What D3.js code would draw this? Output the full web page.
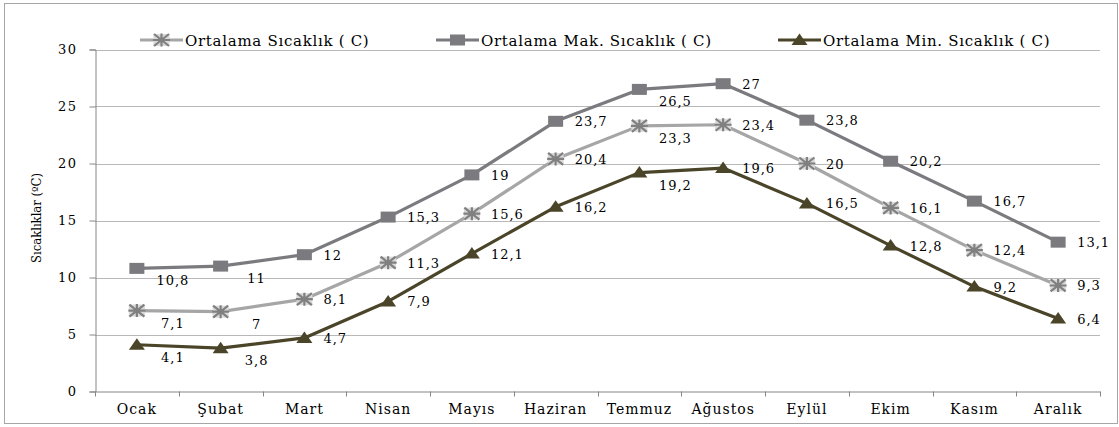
<!DOCTYPE html>
<html><head><meta charset="utf-8">
<script src="https://cdn.jsdelivr.net/npm/d3@7"></script>
<style>body{margin:0;background:#fff}</style>
</head><body><svg id="c" width="1119" height="427"></svg>
<script>
const months = ["Ocak","Şubat","Mart","Nisan","Mayıs","Haziran","Temmuz","Ağustos","Eylül","Ekim","Kasım","Aralık"];
const avgTemp = [7.1,7,8.1,11.3,15.6,20.4,23.3,23.4,20,16.1,12.4,9.3];
const maxTemp = [10.8,11,12,15.3,19,23.7,26.5,27,23.8,20.2,16.7,13.1];
const minTemp = [4.1,3.8,4.7,7.9,12.1,16.2,19.2,19.6,16.5,12.8,9.2,6.4];
const yTicks = [0,5,10,15,20,25,30];
const seriesNames = ["Ortalama Sıcaklık ( C)","Ortalama Mak. Sıcaklık ( C)","Ortalama Min. Sıcaklık ( C)"];
const belowMonths = ["Ocak","Şubat","Temmuz"];

const FONT = "DejaVu Serif";
const svg = d3.select("#c");
const L=95,R=1100,T=49.5,B=391.5;
svg.append("rect").attr("x",4.5).attr("y",3.5).attr("width",1113).attr("height",420).attr("fill","#fff").attr("stroke","#a6a6a6");
const x = d3.scaleBand().domain(months).range([L,R]);
const y = d3.scaleLinear().domain([0,30]).range([B,T]);

svg.append("g").selectAll("line").data(yTicks.slice(1)).join("line")
  .attr("x1",L).attr("x2",R).attr("y1",d=>Math.round(y(d))+0.5).attr("y2",d=>Math.round(y(d))+0.5)
  .attr("stroke","#b8b8b8").attr("stroke-width",1);

const ya = svg.append("g").attr("transform",`translate(${L+0.5},0)`)
  .call(d3.axisLeft(y).tickValues(yTicks).tickSize(6).tickPadding(12).tickFormat(d3.format("d")));
ya.attr("font-family",FONT);
ya.select(".domain").attr("stroke","#868686");
ya.selectAll(".tick line").attr("stroke","#868686");
ya.selectAll("text").attr("font-size",13).attr("fill","#000").attr("letter-spacing","1.5px");

const xa = svg.append("g").attr("transform",`translate(0,${B})`)
  .call(d3.axisBottom(x).tickSize(0).tickPadding(13));
xa.attr("font-family",FONT);
xa.select(".domain").attr("stroke","#868686");
xa.selectAll("text").attr("font-size",14).attr("fill","#000").attr("letter-spacing","1px");
xa.append("g").selectAll("line").data(months.concat(["_end"])).join("line")
  .attr("x1",(d,i)=>Math.round(L+i*x.bandwidth())+0.5).attr("x2",(d,i)=>Math.round(L+i*x.bandwidth())+0.5)
  .attr("y1",0).attr("y2",5).attr("stroke","#868686");

svg.append("text").attr("transform","translate(41,218) rotate(-90)").attr("text-anchor","middle")
  .attr("font-family",FONT).attr("font-size",12).attr("fill","#000")
  .attr("textLength",90).attr("lengthAdjust","spacingAndGlyphs").text("Sıcaklıklar (ºC)");

const cx = m => x(m)+x.bandwidth()/2;
const series = [
  {name:seriesNames[0], vals:avgTemp, color:"#a6a6a6", marker:"star"},
  {name:seriesNames[1], vals:maxTemp, color:"#7b7b7f", marker:"square"},
  {name:seriesNames[2], vals:minTemp, color:"#4a4429", marker:"tri"}
];
function drawMarker(g, type, color){
  if(type==="square"){
    g.append("rect").attr("x",-7.5).attr("y",-5.5).attr("width",15).attr("height",11).attr("fill",color);
  } else if(type==="tri"){
    g.append("path").attr("d","M0,-6.5L8,5L-8,5Z").attr("fill",color);
  } else {
    g.append("rect").attr("x",-8).attr("y",-6).attr("width",16).attr("height",12).attr("fill","#d9d9d9");
    g.append("path").attr("d","M-7.5,-6L7.5,6M7.5,-6L-7.5,6M-8.5,0L8.5,0M0,-6.5L0,6.5").attr("stroke","#808080").attr("stroke-width",2.2);
  }
}
const line = d3.line().x((d,i)=>cx(months[i])).y(d=>y(d));
series.forEach(s=>{
  svg.append("path").attr("d",line(s.vals)).attr("fill","none").attr("stroke",s.color).attr("stroke-width",3.2).attr("stroke-linejoin","round");
});
series.forEach(s=>{
  s.vals.forEach((v,i)=>{
    const g = svg.append("g").attr("transform",`translate(${cx(months[i])},${y(v)})`);
    drawMarker(g,s.marker,s.color);
  });
});
series.forEach(s=>{
  s.vals.forEach((v,i)=>{
    const below = belowMonths.includes(months[i]);
    const px=cx(months[i]), py=y(v);
    svg.append("text").attr("font-family",FONT).attr("font-size",13).attr("fill","#000").attr("letter-spacing","1px")
      .attr("x", below? px+36 : px+19).attr("y", below? py+17 : py+5)
      .attr("text-anchor", below? "middle":"start")
      .text(String(v).replace(".",","));
  });
});

const legX=[140,436,778];
series.forEach((s,i)=>{
  const g=svg.append("g").attr("transform",`translate(${legX[i]},40)`);
  g.append("line").attr("x1",0).attr("x2",43).attr("stroke",s.color).attr("stroke-width",3);
  const m=g.append("g").attr("transform","translate(21.5,0)");
  drawMarker(m,s.marker,s.color);
  g.append("text").attr("x",45).attr("y",5.5).attr("font-family",FONT).attr("font-size",15).attr("fill","#000").attr("letter-spacing","0.7px").text(s.name);
});
</script></body></html>
